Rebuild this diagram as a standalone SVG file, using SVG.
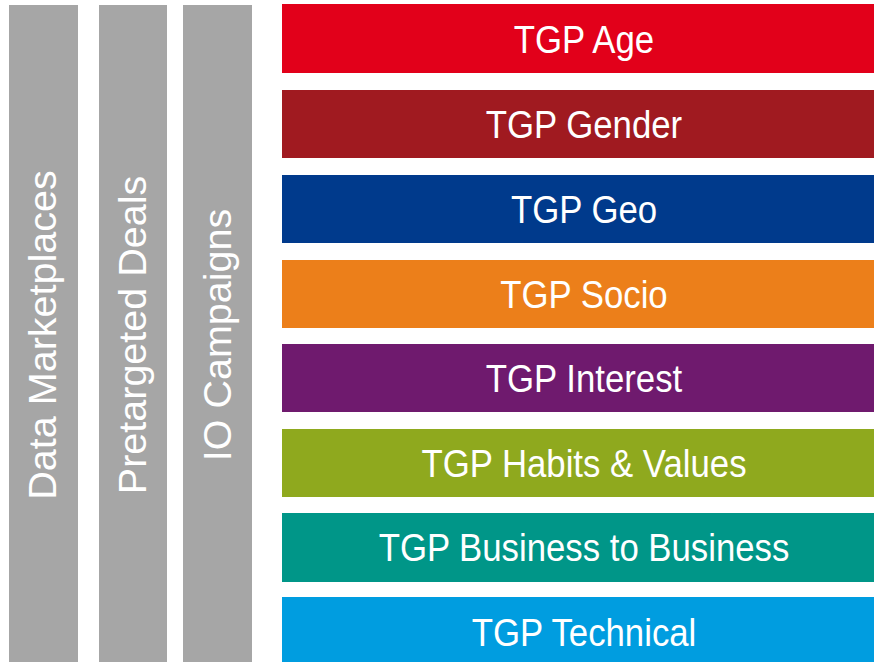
<svg xmlns="http://www.w3.org/2000/svg" width="874" height="662" viewBox="0 0 874 662">
<style>
.col{fill:#A6A6A6}
.t{font-family:"Liberation Sans",Arial,sans-serif;fill:#FFFFFF;text-anchor:middle}
.v{font-size:39.5px}
.h{font-size:39.5px}
</style>
<rect width="874" height="662" fill="#FFFFFF"/>
<g id="col-data-marketplaces"><rect class="col" x="9" y="5" width="69" height="657"/><text class="t v" transform="translate(56,335) rotate(-90)">Data Marketplaces</text></g>
<g id="col-pretargeted-deals"><rect class="col" x="99" y="5" width="68" height="657"/><text class="t v" transform="translate(145.5,335) rotate(-90)">Pretargeted Deals</text></g>
<g id="col-io-campaigns"><rect class="col" x="183" y="5" width="69" height="657"/><text class="t v" transform="translate(230.5,335) rotate(-90)">IO Campaigns</text></g>
<g id="tgp-age"><rect x="282" y="4" width="592" height="69" fill="#E2001A"/><text class="t h" transform="translate(584,52.5) scale(0.88,1)">TGP Age</text></g>
<g id="tgp-gender"><rect x="282" y="90" width="592" height="68" fill="#A01A20"/><text class="t h" transform="translate(584,138) scale(0.88,1)">TGP Gender</text></g>
<g id="tgp-geo"><rect x="282" y="175" width="592" height="68" fill="#003A8C"/><text class="t h" transform="translate(584,223) scale(0.88,1)">TGP Geo</text></g>
<g id="tgp-socio"><rect x="282" y="260" width="592" height="68" fill="#EC7F1A"/><text class="t h" transform="translate(584,308) scale(0.88,1)">TGP Socio</text></g>
<g id="tgp-interest"><rect x="282" y="344" width="592" height="68" fill="#6F1A6E"/><text class="t h" transform="translate(584,392) scale(0.88,1)">TGP Interest</text></g>
<g id="tgp-habits"><rect x="282" y="429" width="592" height="68" fill="#8FA91E"/><text class="t h" transform="translate(584,477) scale(0.88,1)">TGP Habits &amp; Values</text></g>
<g id="tgp-b2b"><rect x="282" y="513" width="592" height="69" fill="#009688"/><text class="t h" transform="translate(584,561) scale(0.88,1)">TGP Business to Business</text></g>
<g id="tgp-technical"><rect x="282" y="597" width="592" height="65" fill="#009DE0"/><text class="t h" transform="translate(584,645.5) scale(0.88,1)">TGP Technical</text></g>
<g id="connectors"/>
</svg>
